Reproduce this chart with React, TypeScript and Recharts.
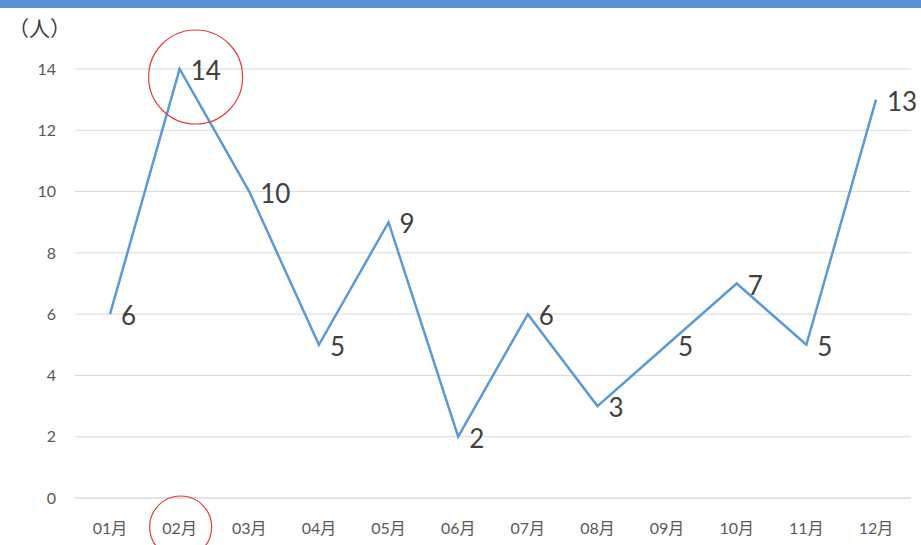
import React from 'react';
import { LineChart, Line, XAxis, YAxis, CartesianGrid, LabelList, ReferenceDot } from 'recharts';

const months = ['01月', '02月', '03月', '04月', '05月', '06月', '07月', '08月', '09月', '10月', '11月', '12月'];
const people = [6, 14, 10, 5, 9, 2, 6, 3, 5, 7, 5, 13];
const yTicks = [0, 2, 4, 6, 8, 10, 12, 14];
const circledMonth = '02月';

const data = months.map((m, i) => ({ month: m, value: people[i] }));

const numFont = "Lato, 'Noto Sans CJK JP', sans-serif";

const ValueLabel = (props: any) => {
  const { x, y, value } = props;
  return (
    <text x={x + 11} y={y + 1} fontSize={26} fill="#404040" fontFamily={numFont} dominantBaseline="central">
      {value}
    </text>
  );
};

const MonthTick = (props: any) => {
  const { x, y, payload } = props;
  return (
    <g>
      <text x={x} y={y + 6} textAnchor="middle" fontSize={16} fill="#595959" fontFamily={numFont} dominantBaseline="central">
        {payload.value}
      </text>
      {payload.value === circledMonth && (
        <circle cx={x + 1} cy={y + 6} r={31} fill="none" stroke="#e03c3c" strokeWidth={1.2} />
      )}
    </g>
  );
};

const PeakCircle = (props: any) => {
  const { cx, cy } = props;
  return <circle cx={cx + 16} cy={cy + 8} r={47} fill="none" stroke="#e03c3c" strokeWidth={1.2} />;
};

const App: React.FC = () => {
  const peak = Math.max(...people);
  const peakMonth = months[people.indexOf(peak)];
  return (
    <div style={{ position: 'absolute', left: 0, top: 0, width: 921, height: 545, background: '#fff', overflow: 'hidden' }}>
      <div style={{ position: 'absolute', left: 0, top: 0, width: 921, height: 8, background: '#5b8fd2' }} />
      <div style={{ position: 'absolute', left: 8, top: 12, fontSize: 21, color: '#404040', fontFamily: "'Noto Sans CJK JP', sans-serif" }}>
        （人）
      </div>
      <LineChart width={921} height={545} data={data} margin={{ top: 69, right: 10, bottom: 17, left: 15 }}>
        <CartesianGrid vertical={false} stroke="#d9d9d9" />
        <XAxis
          dataKey="month"
          axisLine={{ stroke: '#d9d9d9' }}
          tickLine={false}
          tickSize={0}
          tickMargin={23}
          height={30}
          interval={0}
          padding={{ left: 35, right: 35 }}
          tick={<MonthTick />}
        />
        <YAxis
          domain={[0, 14]}
          ticks={yTicks}
          axisLine={false}
          tickLine={false}
          tickSize={0}
          tickMargin={19}
          width={60}
          tick={{ fontSize: 16, fill: '#595959', fontFamily: numFont }}
        />
        <Line
          type="linear"
          dataKey="value"
          stroke="#5b9bd5"
          strokeWidth={2.5}
          dot={false}
          isAnimationActive={false}
        >
          <LabelList dataKey="value" content={<ValueLabel />} />
        </Line>
        <ReferenceDot x={peakMonth} y={peak} shape={<PeakCircle />} ifOverflow="visible" />
      </LineChart>
    </div>
  );
};

export default App;
